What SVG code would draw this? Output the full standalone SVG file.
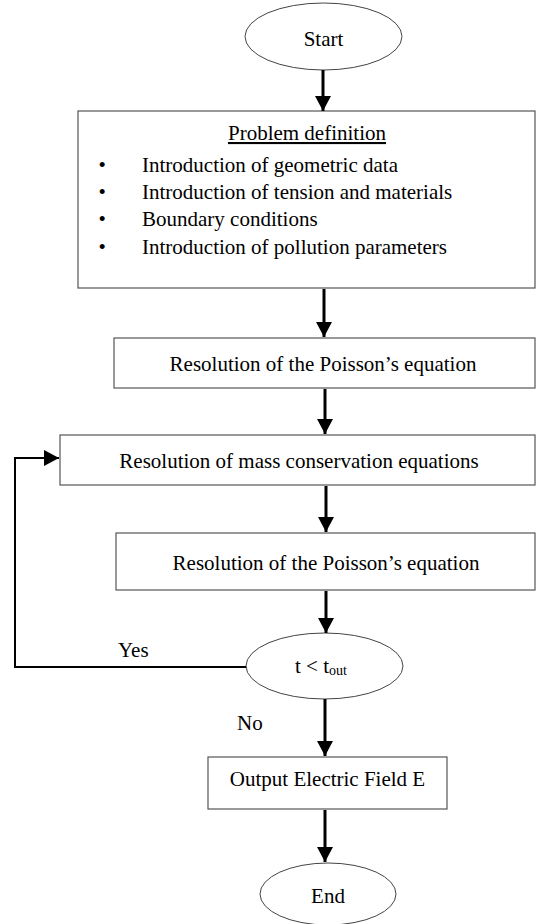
<svg xmlns="http://www.w3.org/2000/svg" width="536" height="924" viewBox="0 0 536 924">
<style>
.box{fill:#fff;stroke:#555;stroke-width:1.2}
.ell{fill:#fff;stroke:#444;stroke-width:1}
.t{font-family:"Liberation Serif","Times New Roman",serif;font-size:21px;fill:#000}
.c{text-anchor:middle}
.con{fill:none;stroke:#000;stroke-width:3}
.loop{fill:none;stroke:#000;stroke-width:2}
</style>
<defs>
<marker id="ah" markerUnits="userSpaceOnUse" markerWidth="16" markerHeight="16" refX="15" refY="8" orient="auto">
<path d="M0,0 L15,8 L0,16 z" fill="#000"/>
</marker>
</defs>
<rect width="536" height="924" fill="#fff"/>
<g id="start">
<ellipse class="ell" cx="323.5" cy="36.5" rx="78.5" ry="33.5"/>
<text class="t c" x="323.5" y="46">Start</text>
</g>
<g id="problem">
<rect class="box" x="78" y="111" width="457" height="177"/>
<text class="t c" x="307" y="140" text-decoration="underline">Problem definition</text>
<text class="t" x="98.5" y="172">•</text>
<text class="t" x="142" y="172">Introduction of geometric data</text>
<text class="t" x="98.5" y="199">•</text>
<text class="t" x="142" y="199">Introduction of tension and materials</text>
<text class="t" x="98.5" y="226">•</text>
<text class="t" x="142" y="226">Boundary conditions</text>
<text class="t" x="98.5" y="254">•</text>
<text class="t" x="142" y="254">Introduction of pollution parameters</text>
</g>
<g id="poisson1">
<rect class="box" x="114" y="338" width="421" height="50"/>
<text class="t c" x="323" y="371">Resolution of the Poisson’s equation</text>
</g>
<g id="mass">
<rect class="box" x="60" y="435" width="475" height="50"/>
<text class="t c" x="299" y="468">Resolution of mass conservation equations</text>
</g>
<g id="poisson2">
<rect class="box" x="116" y="533" width="419" height="57"/>
<text class="t c" x="326" y="570">Resolution of the Poisson’s equation</text>
</g>
<g id="decision">
<ellipse class="ell" cx="324.5" cy="666" rx="78.5" ry="33"/>
<text class="t" x="295" y="673">t &lt; t<tspan font-size="14" dy="2">out</tspan></text>
</g>
<g id="output">
<rect class="box" x="208" y="757" width="239" height="52"/>
<text class="t c" x="327.5" y="786">Output Electric Field E</text>
</g>
<g id="end">
<ellipse class="ell" cx="328" cy="894" rx="68" ry="31"/>
<text class="t c" x="328" y="903">End</text>
</g>
<g id="connectors">
<line class="con" x1="323" y1="70" x2="323" y2="111" marker-end="url(#ah)"/>
<line class="con" x1="324" y1="289" x2="324" y2="337" marker-end="url(#ah)"/>
<line class="con" x1="325" y1="389" x2="325" y2="434" marker-end="url(#ah)"/>
<line class="con" x1="326" y1="486" x2="326" y2="532" marker-end="url(#ah)"/>
<line class="con" x1="326" y1="591" x2="326" y2="633" marker-end="url(#ah)"/>
<line class="con" x1="325" y1="699" x2="325" y2="756" marker-end="url(#ah)"/>
<line class="con" x1="325" y1="810" x2="325" y2="862" marker-end="url(#ah)"/>
<polyline class="loop" points="246,667 15,667 15,458 59,458" marker-end="url(#ah)"/>
<text class="t" x="118" y="657">Yes</text>
<text class="t" x="237" y="730">No</text>
</g>
</svg>
